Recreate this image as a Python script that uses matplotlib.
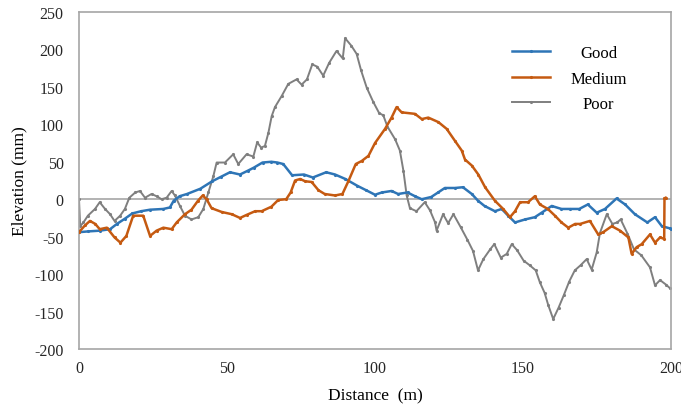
import matplotlib
matplotlib.use("Agg")
import matplotlib.pyplot as plt

# road profile data: distance (m), elevation (mm)
good_d = [0, 3, 7, 10.5, 12.8, 15.5, 18, 21, 24, 28.5, 30.7, 32, 34, 36.5, 41, 45, 48, 51, 54.4, 57, 59, 62, 65, 67,
          69, 72, 76, 79, 83.5, 86.5, 90, 94, 97, 100, 102.3, 105.6, 107.8, 111, 113.5, 115.8, 119, 121.3, 123.6, 127,
          129.7, 132.7, 134.8, 137, 140.5, 142.8, 145, 147.3, 150.7, 154, 156.3, 159.7, 163, 166, 169, 171.9, 174.9,
          177.7, 181.6, 184.5, 187.8, 192, 194.6, 196.9, 199.7, 200]
good_e = [-44, -43, -42, -40, -33, -26, -19, -16, -14, -13, -11, -2, 4, 7, 14, 24, 30, 36, 33, 38, 42, 49, 50, 49,
          47, 32, 33, 29, 36, 33, 27, 18, 12, 6, 9, 11, 7, 9, 4, 0, 3, 9, 15, 15,
          16, 7, -2, -9, -16, -13, -22, -31, -27, -24, -18, -9, -13, -13, -13, -7, -18,
          -13, 1, -7, -20, -31, -24, -36, -39, -40]

medium_d = [0, 2, 3.7, 5.5, 7, 9.4, 12, 14, 16, 18.3, 21.7, 24, 26.2, 28.5, 31.3, 33, 35.8, 38, 40.2, 41.8, 43.1,
            44.8, 48.2, 51.6, 54.4, 56.6, 59.5, 61.7, 65, 67.3, 70, 71.5, 73, 74.7, 76.4, 78.6, 80.9, 83, 86.5, 89,
            91, 93.5, 95.5, 97.8, 100, 103.4, 105.6, 107.3, 109, 113.5, 115.8, 118, 121.4, 124.2, 127, 129.3, 130.4,
            132.7, 134.9, 137.2, 140.5, 143.3, 145.6, 147.3, 149, 151.7, 154, 155.7, 158.4, 160.8, 163, 165.3, 167.6,
            169.3, 172.6, 175.4, 177.1, 180, 182.8, 185.6, 186.7, 188.4, 190.1, 192.9, 194.6, 196.3, 197.7, 197.8,
            198.2]
medium_e = [-44, -35, -29, -33, -40, -38, -51, -58, -49, -22, -22, -49, -42, -38, -40, -31, -20, -14, -2, 5, 0,
            -12, -17, -20, -25, -21, -16, -16, -10, -1, 0, 9, 25, 27, 24, 23, 12, 7, 5, 7,
            24, 47, 51, 58, 75, 94, 109, 123, 116, 114, 107, 109, 103, 94, 78, 65, 53,
            45, 33, 16, -2, -13, -24, -16, -4, -4, 4, -7, -13, -22, -31, -38, -33,
            -33, -29, -47, -44, -36, -42, -51, -73, -64, -60, -47, -58, -51, -53, 1,
            2]

poor_d = [0, 0.4, 1.5, 3, 5.4, 7, 8.8, 10.5, 12, 13.9, 15.5, 17, 19, 20.6, 22.3, 24.5, 26.2, 27.9, 29.6, 31.3, 32.4,
          34.1, 35.8, 38, 40.3, 42, 43.7, 45.4, 46.5, 49.3, 52.1, 53.8, 56.6, 58.9, 60.2, 61.5, 62.8, 64, 65.1, 66.2,
          68.5, 70.7, 73.5, 75.2, 77, 78.8, 80.5, 82.5, 84.5, 87, 89.1, 89.9, 92, 93.8, 95.3, 97.2, 99.4, 101.4, 102.8,
          104.2, 106.8, 108.4, 109.6, 110.7, 111.8, 114, 116.8, 118.6, 120.3, 120.8, 123, 124.7, 126.5, 128.9, 131.2,
          133.1, 134.8, 136.6, 138.9, 140.3, 142.5, 144.5, 146.2, 148, 150.2, 152.2, 154.3, 155.7, 157.3, 158.5, 160.2,
          162, 163.8, 165.6, 167.5, 169.5, 171.5, 173.2, 174.9, 176, 178.3, 180.2, 181.8, 183, 185.3, 187.5, 190,
          192.9, 194.6, 196.3, 198.3, 199.7]
poor_e = [0, -36, -31, -22, -13, -4, -13, -20, -29, -22, -13, 2, 9, 11, 2, 7, 4, 0, 2, 11, 5,
          -9, -22, -27, -24, -13, 9, 31, 49, 49, 60, 47, 60, 57, 76, 69, 71, 89, 111, 123,
          138, 154, 160, 153, 160, 180, 177, 165, 182, 198, 188, 215, 205, 194, 172, 149, 130, 115, 112,
          97, 80, 65, 38, 5, -12, -16, -4, -15, -31, -42, -20, -32, -20, -37, -54,
          -69, -95, -80, -67, -60, -78, -73, -60, -68, -82, -88, -95, -111, -125, -141, -160,
          -145, -128, -110, -95, -88, -80, -94, -71, -45, -20, -33, -31, -27, -46, -67, -75,
          -91, -115, -108, -114, -119]

x_ticks = [0, 50, 100, 150, 200]
y_ticks = [-200, -150, -100, -50, 0, 50, 100, 150, 200, 250]

plt.rcParams['font.family'] = ['Liberation Serif', 'DejaVu Serif']
plt.rcParams['axes.unicode_minus'] = False

fig = plt.figure(figsize=(6.81, 4.06), dpi=100)
ax = fig.add_axes([79 / 681, 56 / 406, 592 / 681, 337 / 406])

ax.axhline(0, color='#a6a6a6', lw=1.2, zorder=1)
ax.plot(good_d, good_e, color='#2e75b6', lw=1.8, marker='.', ms=2.5, label='Good', zorder=3)
ax.plot(medium_d, medium_e, color='#c55a11', lw=1.8, marker='.', ms=2.5, label='Medium', zorder=3)
ax.plot(poor_d, poor_e, color='#7f7f7f', lw=1.4, marker='.', ms=2.5, label='Poor', zorder=2)

ax.set_xlim(0, 200)
ax.set_ylim(-200, 250)
ax.set_xticks(x_ticks)
ax.set_yticks(y_ticks)
ax.tick_params(length=0, labelsize=11.5, colors='#262626')
ax.tick_params(axis='y', pad=11)
ax.tick_params(axis='x', pad=8)
for s in ax.spines.values():
    s.set_color('#a6a6a6')
    s.set_linewidth(1.2)

ax.set_xlabel('Distance  (m)', fontsize=12.5)
ax.set_ylabel('Elevation (mm)', fontsize=12.5)
ax.xaxis.set_label_coords(0.5, -0.115)
ax.yaxis.set_label_coords(-0.088, 0.5)

leg = ax.legend(loc='upper left', bbox_to_anchor=(512 / 681, 1 - 46 / 406), bbox_transform=fig.transFigure,
                frameon=False, fontsize=12, handlelength=2.3, handletextpad=1.2, labelspacing=0.57,
                borderpad=0, borderaxespad=0)

# centre the legend labels like the original
fig.canvas.draw()
r = fig.canvas.get_renderer()
ws = [t.get_window_extent(r).width for t in leg.get_texts()]
for t, w in zip(leg.get_texts(), ws):
    t.set_position(((max(ws) - w) / 2, 0))

fig.savefig('out.png', dpi=100)
